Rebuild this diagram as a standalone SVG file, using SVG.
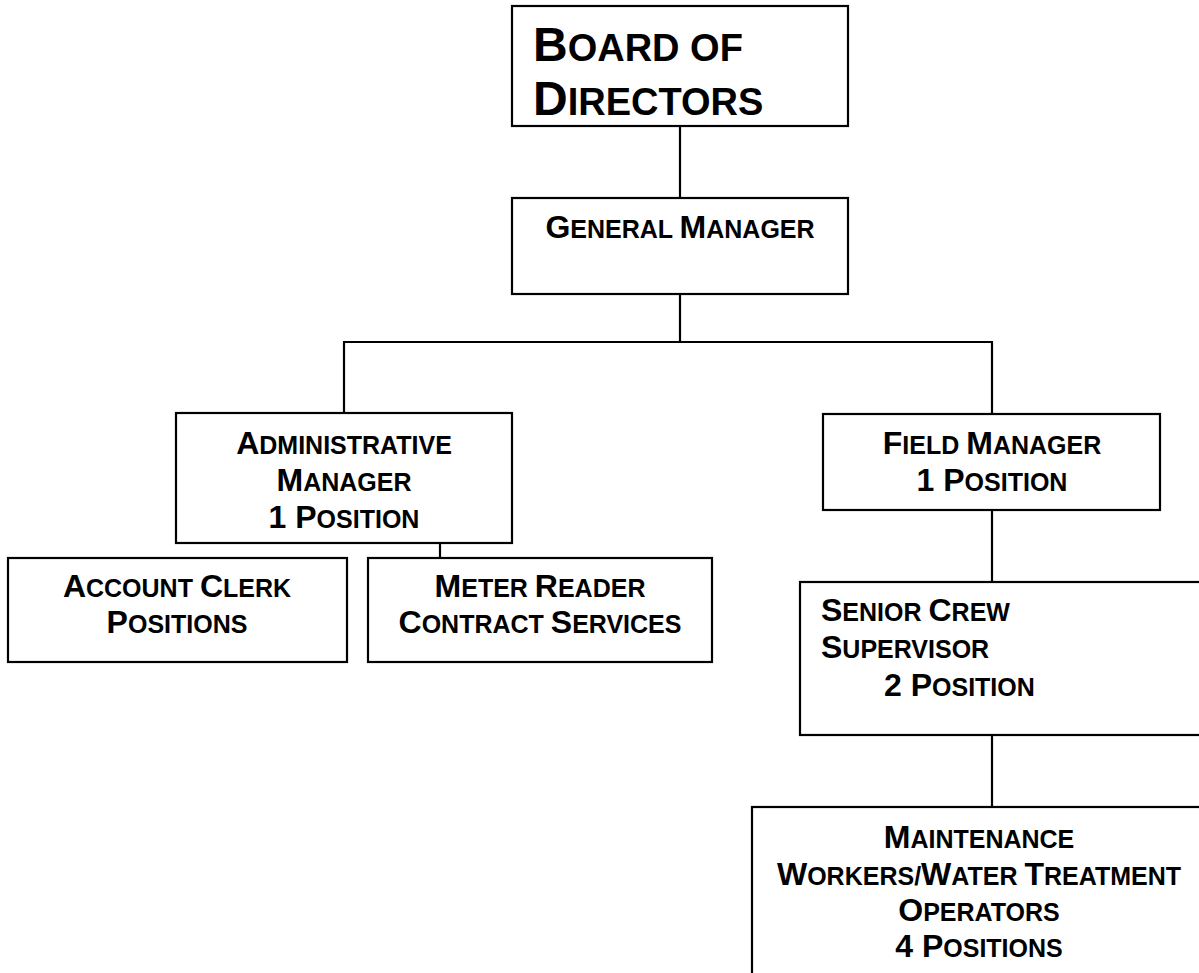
<svg xmlns="http://www.w3.org/2000/svg" width="1199" height="973" viewBox="0 0 1199 973">
<style>
rect{fill:#fff;stroke:#000;stroke-width:2.2}
.c line{stroke:#000;stroke-width:2.2}
text{font-family:"Liberation Sans",Arial,sans-serif;font-weight:bold;font-size:32px;fill:#000}
.m{text-anchor:middle}
.s{font-size:25px}
.big{font-size:48px}
.bs{font-size:38px}
</style>
<rect x="0" y="0" width="1199" height="973" style="fill:#fff;stroke:none"/>
<g class="c" id="connectors">
<line x1="680" y1="126" x2="680" y2="198"/>
<line x1="680" y1="294" x2="680" y2="342"/>
<line x1="343" y1="342" x2="993" y2="342"/>
<line x1="344" y1="342" x2="344" y2="413"/>
<line x1="992" y1="342" x2="992" y2="414"/>
<line x1="440" y1="543" x2="440" y2="558"/>
<line x1="992" y1="510" x2="992" y2="582"/>
<line x1="992" y1="735" x2="992" y2="807"/>
</g>
<g id="board">
<rect x="512" y="6" width="336" height="120"/>
<text x="533" y="61" class="big">B<tspan class="bs">OARD OF</tspan></text>
<text x="533" y="115" class="big">D<tspan class="bs">IRECTORS</tspan></text>
</g>
<g id="general-manager">
<rect x="512" y="198" width="336" height="96"/>
<text x="680" y="238" class="m">G<tspan class="s">ENERAL </tspan>M<tspan class="s">ANAGER</tspan></text>
</g>
<g id="admin-manager">
<rect x="176" y="413" width="336" height="130"/>
<text x="344" y="454" class="m">A<tspan class="s">DMINISTRATIVE</tspan></text>
<text x="344" y="491" class="m">M<tspan class="s">ANAGER</tspan></text>
<text x="344" y="528" class="m">1 P<tspan class="s">OSITION</tspan></text>
</g>
<g id="account-clerk">
<rect x="8" y="558" width="339" height="104"/>
<text x="177" y="597" class="m">A<tspan class="s">CCOUNT </tspan>C<tspan class="s">LERK</tspan></text>
<text x="177" y="633" class="m">P<tspan class="s">OSITIONS</tspan></text>
</g>
<g id="meter-reader">
<rect x="368" y="558" width="344" height="104"/>
<text x="540" y="597" class="m">M<tspan class="s">ETER </tspan>R<tspan class="s">EADER</tspan></text>
<text x="540" y="633" class="m">C<tspan class="s">ONTRACT </tspan>S<tspan class="s">ERVICES</tspan></text>
</g>
<g id="field-manager">
<rect x="823" y="414" width="337" height="96"/>
<text x="992" y="454" class="m">F<tspan class="s">IELD </tspan>M<tspan class="s">ANAGER</tspan></text>
<text x="992" y="491" class="m">1 P<tspan class="s">OSITION</tspan></text>
</g>
<g id="senior-crew-supervisor">
<rect x="800" y="582" width="420" height="153"/>
<text x="821" y="621">S<tspan class="s">ENIOR </tspan>C<tspan class="s">REW</tspan></text>
<text x="821" y="658">S<tspan class="s">UPERVISOR</tspan></text>
<text x="884" y="696">2 P<tspan class="s">OSITION</tspan></text>
</g>
<g id="maintenance-workers">
<rect x="752" y="807" width="470" height="190"/>
<text x="979" y="848" class="m">M<tspan class="s">AINTENANCE</tspan></text>
<text x="979" y="885" class="m">W<tspan class="s">ORKERS/</tspan>W<tspan class="s">ATER </tspan>T<tspan class="s">REATMENT</tspan></text>
<text x="979" y="921" class="m">O<tspan class="s">PERATORS</tspan></text>
<text x="979" y="957" class="m">4 P<tspan class="s">OSITIONS</tspan></text>
</g>
</svg>
